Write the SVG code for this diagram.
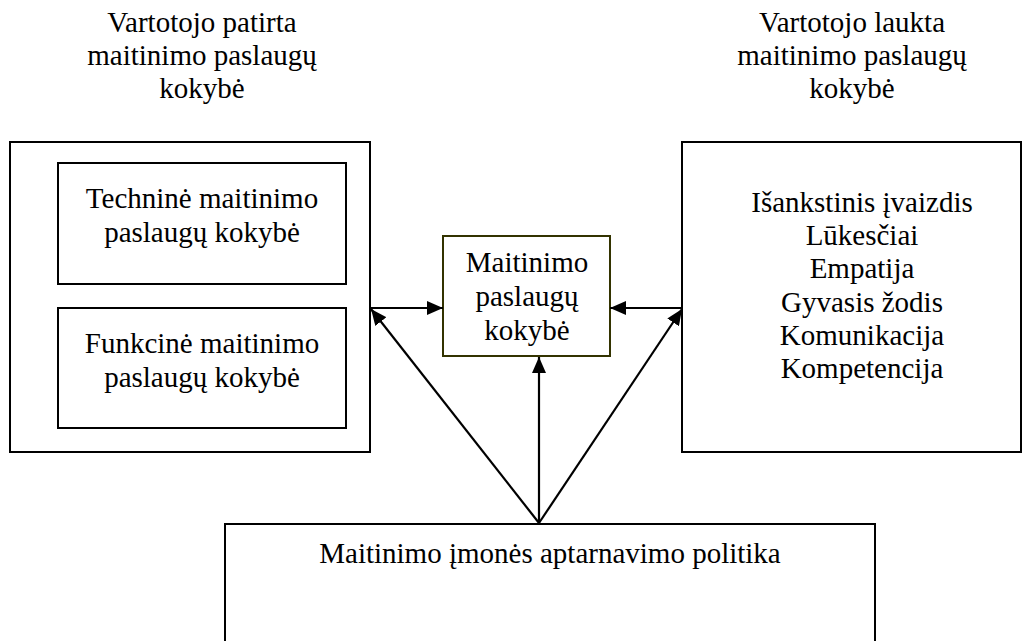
<svg xmlns="http://www.w3.org/2000/svg" width="1030" height="641" viewBox="0 0 1030 641">
  <style>
    .box { fill: #fff; stroke: #000; stroke-width: 2; }
    .core { fill: #fff; stroke: #333300; stroke-width: 2; }
    .link { fill: none; stroke: #000; stroke-width: 2.2; marker-end: url(#arrow); }
  </style>
  <defs>
    <marker id="arrow" markerUnits="userSpaceOnUse" markerWidth="16" markerHeight="14" viewBox="0 0 16 14" refX="16" refY="7" orient="auto">
      <path d="M0,0 L16,7 L0,14 z" fill="#000"/>
    </marker>
  </defs>
  <rect width="1030" height="641" fill="#fff"/>

  <g font-family="'Liberation Serif', 'Times New Roman', serif" font-size="29" text-anchor="middle" fill="#000">
    <!-- column headings -->
    <g id="heading-experienced">
      <text x="202" y="32">Vartotojo patirta</text>
      <text x="202" y="65">maitinimo paslaugų</text>
      <text x="202" y="98">kokybė</text>
    </g>
    <g id="heading-expected">
      <text x="852" y="32">Vartotojo laukta</text>
      <text x="852" y="65">maitinimo paslaugų</text>
      <text x="852" y="98">kokybė</text>
    </g>

    <!-- experienced quality block with its two parts -->
    <g id="experienced">
      <rect class="box" x="10" y="142" width="360" height="310"/>
    </g>
    <g id="technical">
      <rect class="box" x="58" y="163" width="288" height="121"/>
      <text x="202" y="208">Techninė maitinimo</text>
      <text x="202" y="242">paslaugų kokybė</text>
    </g>
    <g id="functional">
      <rect class="box" x="58" y="308" width="288" height="120"/>
      <text x="202" y="353">Funkcinė maitinimo</text>
      <text x="202" y="387">paslaugų kokybė</text>
    </g>

    <!-- expected quality block -->
    <g id="expected">
      <rect class="box" x="682" y="142" width="339" height="310"/>
      <text x="862" y="212">Išankstinis įvaizdis</text>
      <text x="862" y="245">Lūkesčiai</text>
      <text x="862" y="278">Empatija</text>
      <text x="862" y="312">Gyvasis žodis</text>
      <text x="862" y="345">Komunikacija</text>
      <text x="862" y="378">Kompetencija</text>
    </g>

    <!-- central node -->
    <g id="service-quality">
      <rect class="core" x="443" y="236" width="167" height="120"/>
      <text x="527" y="272">Maitinimo</text>
      <text x="527" y="306">paslaugų</text>
      <text x="527" y="340">kokybė</text>
    </g>

    <!-- policy block -->
    <g id="policy">
      <rect class="box" x="225" y="524" width="650" height="130"/>
      <text x="550" y="563">Maitinimo įmonės aptarnavimo politika</text>
    </g>
  </g>

  <!-- connectors -->
  <g id="connectors">
    <line class="link" x1="370" y1="308" x2="443" y2="308"/>
    <line class="link" x1="682" y1="308" x2="610" y2="308"/>
    <line class="link" x1="539" y1="523" x2="539" y2="357"/>
    <line class="link" x1="539" y1="523" x2="371" y2="309"/>
    <line class="link" x1="539" y1="523" x2="682" y2="309"/>
  </g>
</svg>
